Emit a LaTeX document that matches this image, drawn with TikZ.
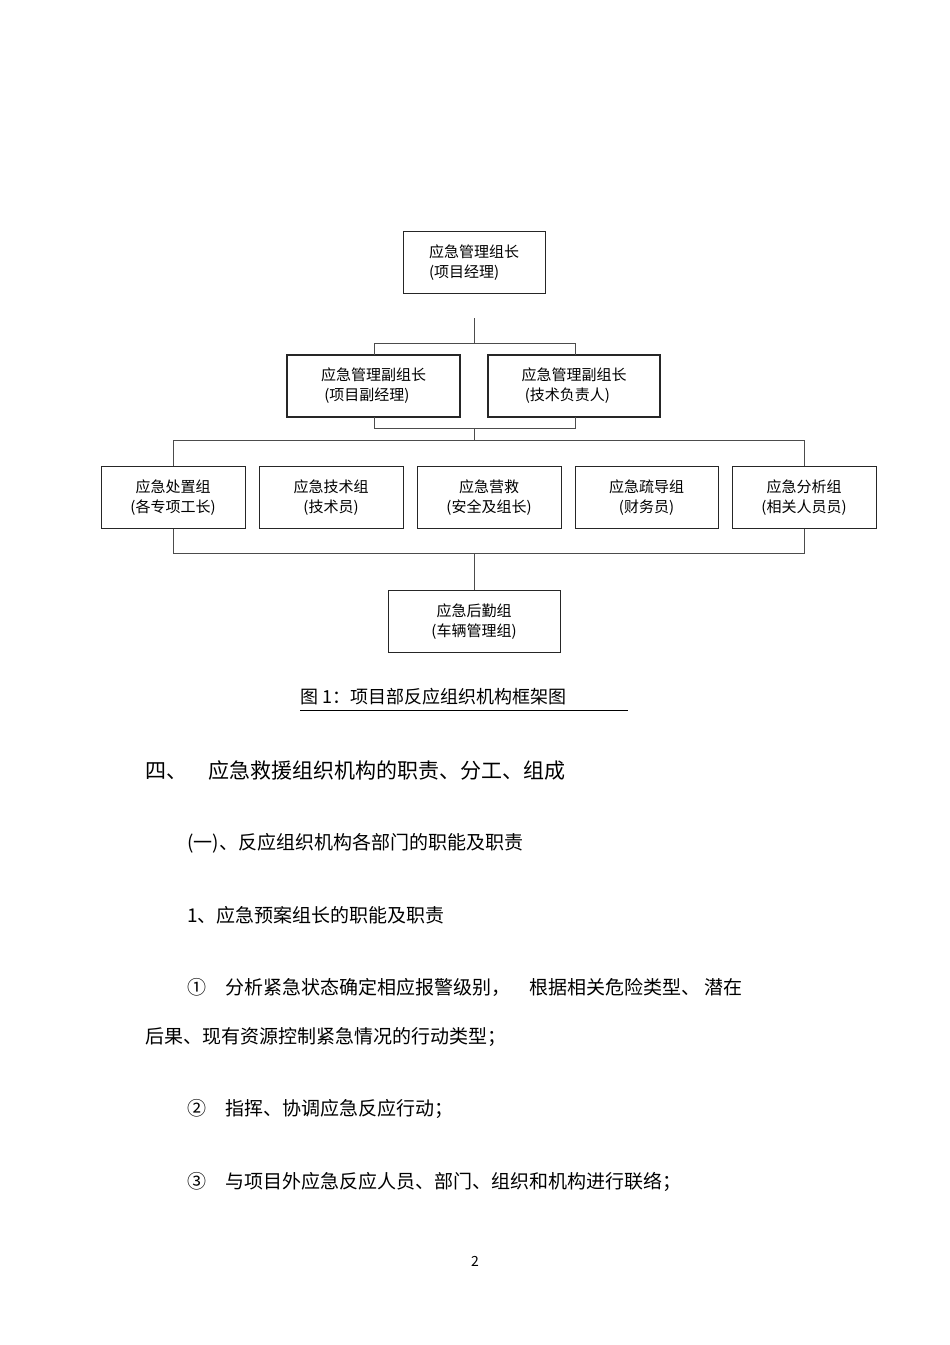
\documentclass[tikz,border=0pt]{standalone}
\usepackage{fontspec}
\setmainfont{Noto Sans CJK SC}
\begin{document}
\begin{tikzpicture}[x=1pt,y=-1pt,
 bx/.style={draw=black!85,line width=1pt,minimum height=62pt,align=left,font=\fontsize{15}{20}\selectfont,inner sep=0pt},
 ln/.style={draw=black!70,line width=1pt},
 txt/.style={anchor=west,font=\fontsize{19}{22}\selectfont,inner sep=0pt}]
\useasboundingbox (0,0) rectangle (950,1345);
\node[bx,minimum width=142pt] (top) at (474,262.5) {应急管理组长\\(项目经理)};
\node[bx,minimum width=173pt,line width=1.3pt] (d1) at (373.5,386) {应急管理副组长\\\ (项目副经理)};
\node[bx,minimum width=172pt,line width=1.3pt] (d2) at (574,386) {应急管理副组长\\\ (技术负责人)};
\node[bx,minimum width=144pt,align=center] (g1) at (173,497.5) {应急处置组\\(各专项工长)};
\node[bx,minimum width=144pt,align=center] (g2) at (331,497.5) {应急技术组\\(技术员)};
\node[bx,minimum width=144pt,align=center] (g3) at (489,497.5) {应急营救\\(安全及组长)};
\node[bx,minimum width=143pt,align=center] (g4) at (646.5,497.5) {应急疏导组\\(财务员)};
\node[bx,minimum width=144pt,align=center] (g5) at (804,497.5) {应急分析组\\(相关人员员)};
\node[bx,minimum width=172pt,align=center] (b) at (474,621.5) {应急后勤组\\(车辆管理组)};
\coordinate (c1) at (474,318);
\coordinate (c2) at (474,343);
\draw[ln] (c1) -- (c2);
\draw[ln] (374,355) |- (575,343) -- (575,355);
\draw[ln] (374,417) |- (575,428) -- (575,417);
\draw[ln] (474,428) -- (474,440);
\draw[ln] (g1.north) |- (g5.north |- 0,440) -- (g5.north);
\draw[ln] (g1.south) |- (g5.south |- 0,553) -- (g5.south);
\draw[ln] (474,553) -- (b.north);
\node[txt,font=\fontsize{18}{20}\selectfont] (cap) at (300,697) {图 1：项目部反应组织机构框架图\ \ };
\draw[black,line width=0.8pt] (300,710) -- (628,710);
\node[txt,font=\fontsize{21}{24}\selectfont] (h) at (145,770) {四、\quad 应急救援组织机构的职责、分工、组成};
\node[txt] (t1) at (187,843) {(一)、反应组织机构各部门的职能及职责};
\node[txt] (t2) at (187,915) {1、应急预案组长的职能及职责};
\node[txt] (t3) at (187,987) {①\quad 分析紧急状态确定相应报警级别，\quad 根据相关危险类型、\ 潜在};
\node[txt] (t4) at (145,1037) {后果、现有资源控制紧急情况的行动类型；};
\node[txt] (t5) at (187,1109) {②\quad 指挥、协调应急反应行动；};
\node[txt] (t6) at (187,1182) {③\quad 与项目外应急反应人员、部门、组织和机构进行联络；};
\node[font=\fontsize{14}{16}\selectfont] (pg) at (475,1261) {2};
\end{tikzpicture}
\end{document}
